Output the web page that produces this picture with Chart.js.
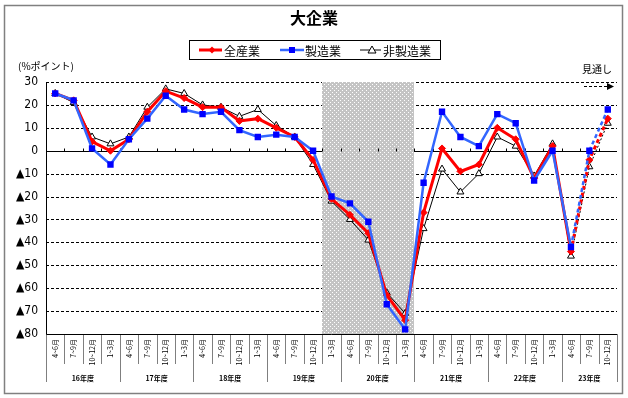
<!DOCTYPE html>
<html><head><meta charset="utf-8">
<script src="https://cdn.jsdelivr.net/npm/chart.js@4/dist/chart.umd.min.js"></script>
<style>html,body{margin:0;padding:0;background:#fff}#wrap{position:relative;width:628px;height:398px}</style>
</head><body><div id="wrap"><canvas id="c" width="628" height="398"></canvas></div>
<script>
const chartTitle = '大企業';
const seriesNames = ['全産業', '製造業', '非製造業'];
const fiscalYears = ['16年度', '17年度', '18年度', '19年度', '20年度', '21年度', '22年度', '23年度'];
const quarters = ['4~6月', '7~9月', '10~12月', '1~3月'];
const quartersPerYear = [4, 4, 4, 4, 4, 4, 4, 3];
const allIndustries = [25, 22, 4, 0, 5, 17, 26, 23, 19, 19, 13, 14, 10, 6, -4, -21, -28, -36, -63, -74, -27, 1, -9, -6, 10, 5, -12, 2, -44, -4, 14];
const manufacturing = [25, 22, 1, -6, 5, 14, 24, 18, 16, 17, 9, 6, 7, 6, 0, -20, -23, -31, -67, -78, -14, 17, 6, 2, 16, 12, -13, 0, -42, 0, 18];
const nonManufacturing = [25, 21, 6, 3, 6, 19, 27, 25, 20, 19, 15, 18, 11, 6, -6, -22, -30, -39, -62, -71, -34, -8, -18, -10, 6, 2, -11, 3, -46, -7, 12];
const yTickValues = [30, 20, 10, 0, -10, -20, -30, -40, -50, -60, -70, -80];
const yTickLabels = ['30', '20', '10', '0', '▲10', '▲20', '▲30', '▲40', '▲50', '▲60', '▲70', '▲80'];
const shadeFrom = 15, shadeTo = 19;   // shaded category range (inclusive)
const forecastFrom = 28;              // segments after this index are outlook
const unitLabel = '(%ポイント)';
const outlookLabel = '見通し';

const labels = [];
fiscalYears.forEach((fy, k) => { for (let q = 0; q < quartersPerYear[k]; q++) labels.push(quarters[q]); });

const JP = '"Noto Sans CJK JP", sans-serif';

const pat = document.createElement('canvas');
pat.width = 4; pat.height = 4;
{ const p = pat.getContext('2d'); p.fillStyle = '#c4c4c4'; p.fillRect(0,0,4,4); p.fillStyle = '#ffffff'; p.fillRect(0,0,1,1); p.fillRect(2,2,1,1); }

function drawMarker(ctx, style, x, y) {
  ctx.save();
  if (style === 'red') {
    ctx.fillStyle = '#ff0000';
    ctx.beginPath(); ctx.moveTo(x, y-3.5); ctx.lineTo(x+3.5, y); ctx.lineTo(x, y+3.5); ctx.lineTo(x-3.5, y); ctx.closePath(); ctx.fill();
  } else if (style === 'blue') {
    ctx.fillStyle = '#0000ff'; ctx.fillRect(x-3, y-3, 6, 6);
  } else {
    ctx.fillStyle = '#fff'; ctx.strokeStyle = '#000'; ctx.lineWidth = 1;
    ctx.beginPath(); ctx.moveTo(x, y-4); ctx.lineTo(x+4, y+3); ctx.lineTo(x-4, y+3); ctx.closePath(); ctx.fill(); ctx.stroke();
  }
  ctx.restore();
}

const deco = {
  id: 'deco',
  beforeDraw(chart) {
    const ctx = chart.ctx;
    ctx.save();
    ctx.fillStyle = '#fff'; ctx.fillRect(0, 0, chart.width, chart.height);
    ctx.strokeStyle = '#808080'; ctx.lineWidth = 1.5; ctx.strokeRect(4.5, 5.5, 618, 388);
    ctx.fillStyle = '#000';
    ctx.font = 'bold 16px ' + JP; ctx.textAlign = 'center'; ctx.textBaseline = 'middle';
    ctx.fillText(chartTitle, 314, 18);
    // legend
    ctx.lineWidth = 1; ctx.strokeStyle = '#000';
    ctx.strokeRect(189.5, 40.5, 251, 19);
    const ly = 50;
    const items = [
      {x0: 199, x1: 222, mx: 212, tx: 224, color: '#ff0000', w: 3, st: 'red'},
      {x0: 280, x1: 304, mx: 292, tx: 305, color: '#3366ff', w: 2.5, st: 'blue'},
      {x0: 360, x1: 381, mx: 372, tx: 383, color: '#000000', w: 1, st: 'black'}
    ];
    ctx.font = '12px ' + JP; ctx.textAlign = 'left';
    items.forEach((it, i) => {
      ctx.strokeStyle = it.color; ctx.lineWidth = it.w;
      ctx.beginPath(); ctx.moveTo(it.x0, ly); ctx.lineTo(it.x1, ly); ctx.stroke();
      drawMarker(ctx, it.st, it.mx, ly);
      ctx.fillStyle = '#000'; ctx.fillText(seriesNames[i], it.tx, ly + 1);
    });
    ctx.font = '10px ' + JP;
    ctx.fillText(unitLabel, 18, 66);
    ctx.fillText(outlookLabel, 582, 69);
    // outlook arrow
    ctx.strokeStyle = '#000'; ctx.lineWidth = 1; ctx.setLineDash([3, 2]);
    ctx.beginPath(); ctx.moveTo(584, 86.5); ctx.lineTo(609, 86.5); ctx.stroke();
    ctx.setLineDash([]);
    ctx.fillStyle = '#000';
    ctx.beginPath(); ctx.moveTo(614, 86.5); ctx.lineTo(607, 83); ctx.lineTo(607, 90); ctx.closePath(); ctx.fill();
    ctx.restore();
  },
  beforeDatasetsDraw(chart) {
    const ctx = chart.ctx, a = chart.chartArea;
    const xs = chart.scales.x, ys = chart.scales.y;
    const half = (xs.getPixelForValue(1) - xs.getPixelForValue(0)) / 2;
    const bnd = k => xs.getPixelForValue(k) - half;
    ctx.save();
    // horizontal grid
    ctx.lineWidth = 1; ctx.strokeStyle = '#000';
    yTickValues.forEach(v => {
      const y = Math.round(ys.getPixelForValue(v)) + 0.5;
      ctx.setLineDash(v === 0 ? [] : [3, 2]);
      if (v === yTickValues[yTickValues.length - 1]) return;
      ctx.beginPath(); ctx.moveTo(a.left, y); ctx.lineTo(a.right, y); ctx.stroke();
    });
    ctx.setLineDash([]);
    // shading
    const sx0 = Math.round(bnd(shadeFrom)), sx1 = Math.round(bnd(shadeTo + 1));
    ctx.fillStyle = ctx.createPattern(pat, 'repeat');
    ctx.fillRect(sx0, a.top, sx1 - sx0, a.bottom - a.top);
    // zero line ticks
    const y0 = Math.round(ys.getPixelForValue(0)) + 0.5;
    for (let k = 1; k < labels.length; k++) {
      const x = Math.round(bnd(k)) + 0.5;
      ctx.beginPath(); ctx.moveTo(x, y0); ctx.lineTo(x, y0 - 3); ctx.stroke();
    }
    // axes
    const yb = Math.round(a.bottom) + 0.5, xl = Math.round(a.left) + 0.5;
    ctx.beginPath(); ctx.moveTo(xl, a.top); ctx.lineTo(xl, yb); ctx.lineTo(a.right, yb); ctx.stroke();
    // category separators below axis
    const yearB = [0]; quartersPerYear.forEach(n => yearB.push(yearB[yearB.length - 1] + n));
    ctx.setLineDash([1, 1]);
    for (let k = 0; k <= labels.length; k++) {
      const x = Math.round(bnd(k)) + 0.5;
      const isYear = yearB.includes(k);
      ctx.beginPath(); ctx.moveTo(x, yb); ctx.lineTo(x, yb + (isYear ? 48 : 30)); ctx.stroke();
    }
    ctx.setLineDash([]);
    ctx.fillStyle = '#000'; ctx.font = 'bold 7px ' + JP; ctx.textAlign = 'center'; ctx.textBaseline = 'middle';
    fiscalYears.forEach((fy, i) => {
      const xm = (bnd(yearB[i]) + bnd(yearB[i + 1])) / 2;
      ctx.fillText(fy, xm, yb + 44);
    });
    ctx.restore();
  }
};

const dashSeg = (dash) => ({ borderDash: c => c.p0DataIndex >= forecastFrom ? dash : undefined });

new Chart(document.getElementById('c'), {
  type: 'line',
  data: {
    labels: labels,
    datasets: [
      { label: seriesNames[0], data: allIndustries, borderColor: '#ff0000', borderWidth: 3,
        pointStyle: 'rectRot', pointRadius: 3.5, pointBackgroundColor: '#ff0000', pointBorderColor: '#ff0000', pointBorderWidth: 1,
        segment: dashSeg([4, 3]), order: 1, tension: 0 },
      { label: seriesNames[1], data: manufacturing, borderColor: '#3366ff', borderWidth: 2.5,
        pointStyle: 'rect', pointRadius: 4.5, pointBackgroundColor: '#0000ff', pointBorderColor: '#0000ff', pointBorderWidth: 0,
        segment: dashSeg([4, 3]), order: 0, tension: 0 },
      { label: seriesNames[2], data: nonManufacturing, borderColor: '#000000', borderWidth: 1,
        pointStyle: 'triangle', pointRadius: 4, pointBackgroundColor: '#ffffff', pointBorderColor: '#000000', pointBorderWidth: 1,
        segment: dashSeg([2, 2]), order: 2, tension: 0 }
    ]
  },
  options: {
    responsive: false, animation: false, devicePixelRatio: 1,
    layout: { padding: { top: 82, right: 11, left: 0, bottom: 0 } },
    plugins: { legend: { display: false }, title: { display: false }, tooltip: { enabled: false } },
    scales: {
      x: {
        type: 'category', offset: true,
        grid: { display: false, drawTicks: false },
        border: { display: false },
        ticks: { autoSkip: false, minRotation: 90, maxRotation: 90, padding: 5, color: '#000',
                 font: { size: 7, family: '"Noto Sans CJK JP", sans-serif' } },
        afterFit(s) { s.height = 64; }
      },
      y: {
        min: -80, max: 30,
        grid: { display: false, drawTicks: false },
        border: { display: false },
        ticks: { stepSize: 10, padding: 8, color: '#000', font: { size: 12, family: '"DejaVu Sans Condensed", "Liberation Sans", sans-serif' },
                 callback: v => { const i = yTickValues.indexOf(v); return i >= 0 ? yTickLabels[i] : ''; } },
        afterFit(s) { s.width = 46; }
      }
    }
  },
  plugins: [deco]
});
</script>
</body></html>
